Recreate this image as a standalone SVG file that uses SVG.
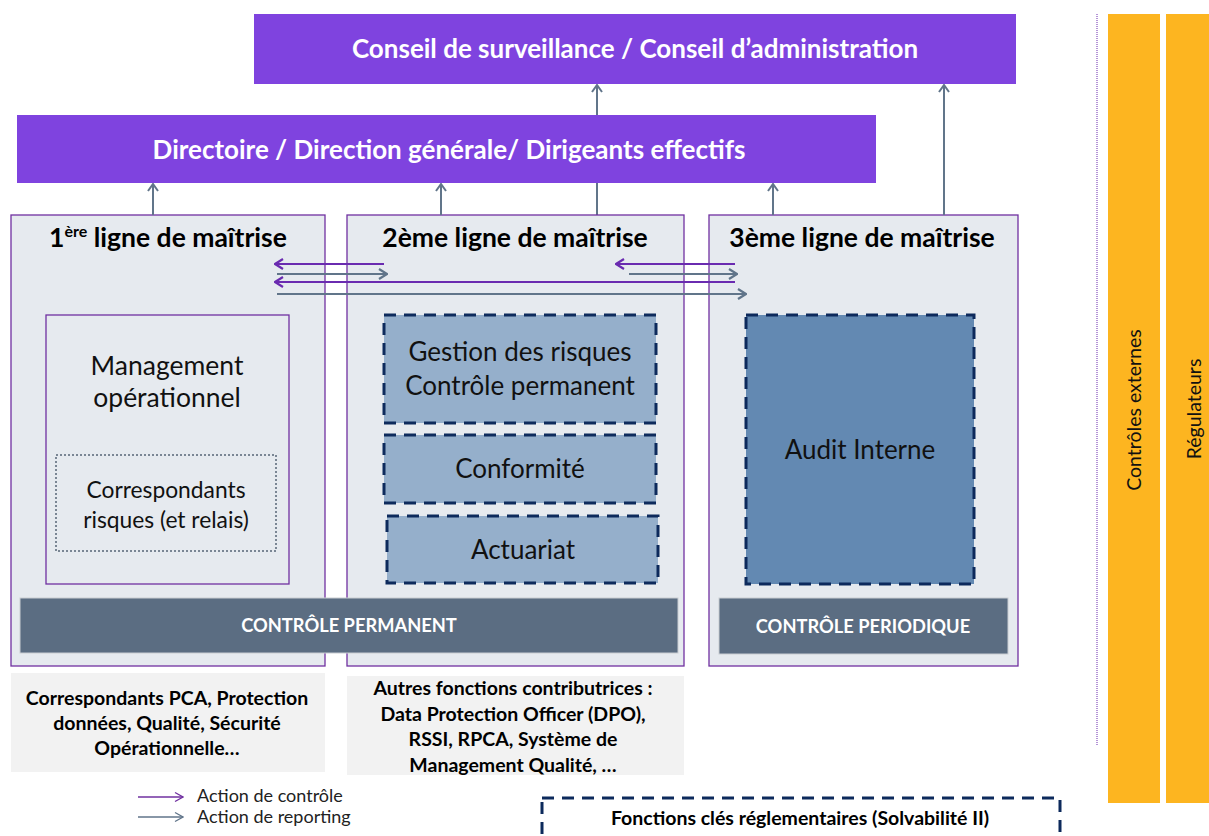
<svg xmlns="http://www.w3.org/2000/svg" width="1209" height="836" viewBox="0 0 1209 836">
<style>
text{font-family:Lato,"Liberation Sans",sans-serif;}
.hdr{fill:#7F43DF;}
.hdrt{fill:#fff;font-weight:bold;font-size:26px;text-anchor:middle;}
.col{fill:#E6EAEF;stroke:#7030A0;stroke-width:1.3;}
.colt{fill:#000;font-weight:bold;font-size:26.5px;text-anchor:middle;}
.bar{fill:#5B6D82;}
.bart{fill:#fff;font-weight:bold;font-size:18.3px;text-anchor:middle;}
.key{stroke:#0D2A5C;stroke-width:3;stroke-dasharray:12 8;}
.kt{fill:#111;font-size:26px;text-anchor:middle;}
.kt-mgmt{font-size:26.5px;}
.kt-corr{font-size:22.8px;}
.note{fill:#F2F2F2;}
.nt{fill:#000;font-weight:bold;font-size:19.5px;text-anchor:middle;}
.ctl{stroke:#6A2BB0;stroke-width:2;fill:none;}
.rep{stroke:#61758A;stroke-width:2;fill:none;}
.orange{fill:#FDB520;}
.ot{fill:#111;font-size:19.5px;text-anchor:middle;}
</style>
<defs>
<marker id="ah-ctl" viewBox="0 0 12 12" refX="11" refY="6" markerWidth="12" markerHeight="12" markerUnits="userSpaceOnUse" orient="auto"><path d="M3,1 L11,6 L3,11" fill="none" stroke="#6A2BB0" stroke-width="2.2"/></marker>
<marker id="ah-rep" viewBox="0 0 12 12" refX="11" refY="6" markerWidth="12" markerHeight="12" markerUnits="userSpaceOnUse" orient="auto"><path d="M3,1 L11,6 L3,11" fill="none" stroke="#61758A" stroke-width="2.2"/></marker>
<marker id="ah-up" viewBox="0 0 12 12" refX="11" refY="6" markerWidth="12" markerHeight="12" markerUnits="userSpaceOnUse" orient="auto"><path d="M4,1 L11,6 L4,11" fill="none" stroke="#61758A" stroke-width="2"/></marker>
<marker id="ah-leg" viewBox="0 0 12 12" refX="11" refY="6" markerWidth="12" markerHeight="12" markerUnits="userSpaceOnUse" orient="auto"><path d="M3,1.5 L11,6 L3,10.5" fill="none" stroke="context-stroke" stroke-width="1.3"/></marker>
</defs>

<g id="connectors-back">
<line x1="597" y1="215" x2="597" y2="85" class="rep" marker-end="url(#ah-up)"/>
</g>

<g id="conseil">
<rect class="hdr" x="254" y="14" width="762" height="70"/>
<text class="hdrt" x="635" y="58">Conseil de surveillance / Conseil d’administration</text>
</g>

<g id="directoire">
<rect class="hdr" x="17" y="115" width="859" height="68"/>
<text class="hdrt" x="449" y="159">Directoire / Direction générale/ Dirigeants effectifs</text>
</g>

<g id="ligne1">
<rect class="col" x="11" y="215" width="314" height="451"/>
<text class="colt" x="168" y="247">1<tspan style="font-size:16px" dy="-10">ère</tspan><tspan dy="10"> ligne de maîtrise</tspan></text>
</g>
<g id="ligne2">
<rect class="col" x="347" y="215" width="337" height="451"/>
<text class="colt" x="515" y="247">2ème ligne de maîtrise</text>
</g>
<g id="ligne3">
<rect class="col" x="709" y="215" width="309" height="451"/>
<text class="colt" x="862" y="247">3ème ligne de maîtrise</text>
</g>

<g id="management">
<rect x="46" y="315" width="243" height="269" fill="#E6EAEF" stroke="#7030A0" stroke-width="1.3"/>
<text class="kt kt-mgmt" x="167" y="375">Management</text>
<text class="kt kt-mgmt" x="167" y="407">opérationnel</text>
</g>
<g id="correspondants">
<rect x="56" y="455" width="220" height="96" fill="none" stroke="#7A8694" stroke-width="2" stroke-dasharray="2 2"/>
<text class="kt kt-corr" x="166" y="498">Correspondants</text>
<text class="kt kt-corr" x="166" y="528">risques (et relais)</text>
</g>

<g id="gestion">
<rect class="key" x="384" y="315" width="272" height="108" fill="#95AFCB"/>
<text class="kt" x="520" y="361">Gestion des risques</text>
<text class="kt" x="520" y="395">Contrôle permanent</text>
</g>
<g id="conformite">
<rect class="key" x="384" y="435" width="272" height="68" fill="#95AFCB"/>
<text class="kt" x="520" y="478">Conformité</text>
</g>
<g id="actuariat">
<rect class="key" x="387" y="516" width="271" height="67" fill="#95AFCB"/>
<text class="kt" x="523" y="559">Actuariat</text>
</g>
<g id="audit">
<rect class="key" x="746" y="315" width="228" height="269" fill="#6389B2"/>
<text class="kt" x="860" y="459">Audit Interne</text>
</g>

<g id="controle-permanent">
<rect class="bar" x="20" y="598" width="658" height="55" stroke="#C9CDD2" stroke-width="1"/>
<text class="bart" x="349" y="632">CONTRÔLE PERMANENT</text>
</g>
<g id="controle-periodique">
<rect class="bar" x="719" y="598" width="289" height="56" stroke="#C9CDD2" stroke-width="1"/>
<text class="bart" x="863" y="633">CONTRÔLE PERIODIQUE</text>
</g>

<g id="note1">
<rect class="note" x="11" y="673" width="314" height="99"/>
<text class="nt" x="167" y="705">Correspondants PCA, Protection</text>
<text class="nt" x="167" y="730">données, Qualité, Sécurité</text>
<text class="nt" x="167" y="755">Opérationnelle…</text>
</g>
<g id="note2">
<rect class="note" x="347" y="676" width="337" height="99"/>
<text class="nt" x="513" y="695">Autres fonctions contributrices :</text>
<text class="nt" x="513" y="721">Data Protection Officer (DPO),</text>
<text class="nt" x="513" y="746">RSSI, RPCA, Système de</text>
<text class="nt" x="513" y="772">Management Qualité, …</text>
</g>

<g id="fonctions-cles">
<rect class="key" x="542" y="798" width="518" height="60" fill="none"/>
<text class="nt" x="800" y="825">Fonctions clés réglementaires (Solvabilité II)</text>
</g>

<g id="legend">
<line x1="138" y1="797" x2="183" y2="797" stroke="#7030A0" stroke-width="1.3" marker-end="url(#ah-leg)"/>
<text x="197" y="802" font-size="18" fill="#222">Action de contrôle</text>
<line x1="138" y1="817" x2="183" y2="817" stroke="#61758A" stroke-width="1.3" marker-end="url(#ah-leg)"/>
<text x="197" y="823" font-size="18" fill="#222">Action de reporting</text>
</g>

<g id="externes">
<line x1="1097" y1="14" x2="1097" y2="745" stroke="#6A2BB0" stroke-width="1" stroke-dasharray="1 1"/>
<rect class="orange" x="1108" y="14" width="52" height="789"/>
<text class="ot" transform="translate(1141 410) rotate(-90)">Contrôles externes</text>
</g>
<g id="regulateurs">
<rect class="orange" x="1166" y="14" width="43" height="789"/>
<text class="ot" transform="translate(1201 409) rotate(-90)">Régulateurs</text>
</g>

<g id="connectors">
<line x1="153" y1="215" x2="153" y2="184" class="rep" marker-end="url(#ah-up)"/>
<line x1="441" y1="215" x2="441" y2="184" class="rep" marker-end="url(#ah-up)"/>
<line x1="773" y1="215" x2="773" y2="184" class="rep" marker-end="url(#ah-up)"/>
<line x1="944" y1="215" x2="944" y2="85" class="rep" marker-end="url(#ah-up)"/>
<line x1="384" y1="264" x2="275" y2="264" class="ctl" marker-end="url(#ah-ctl)"/>
<line x1="277" y1="274" x2="387" y2="274" class="rep" marker-end="url(#ah-rep)"/>
<line x1="735" y1="282" x2="275" y2="282" class="ctl" marker-end="url(#ah-ctl)"/>
<line x1="277" y1="294" x2="746" y2="294" class="rep" marker-end="url(#ah-rep)"/>
<line x1="735" y1="264" x2="616" y2="264" class="ctl" marker-end="url(#ah-ctl)"/>
<line x1="629" y1="274" x2="737" y2="274" class="rep" marker-end="url(#ah-rep)"/>
</g>
</svg>
